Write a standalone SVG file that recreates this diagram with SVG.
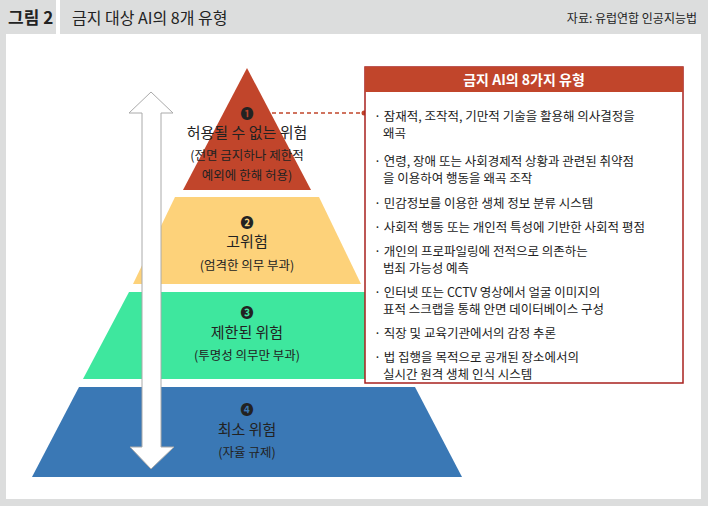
<svg xmlns="http://www.w3.org/2000/svg" width="708" height="506" viewBox="0 0 708 506">
<style>
text{font-family:"Noto Sans CJK KR","Noto Sans",sans-serif;fill:#222}
.c{text-anchor:middle}
.t1{font-size:15px}
.t2{font-size:12.5px}
.n{font-size:13px;font-weight:bold}
.li{font-size:12.5px}
</style>
<rect width="708" height="506" fill="#dcdddd"/>
<rect x="56" y="0" width="4" height="34" fill="#fff"/>
<rect x="6" y="34" width="695" height="465" fill="#fff"/>
<text x="8" y="24" style="font-size:17px;font-weight:bold">그림 2</text>
<text x="72" y="24" style="font-size:16px">금지 대상 AI의 8개 유형</text>
<text x="697" y="23" style="font-size:12px;text-anchor:end">자료: 유럽연합 인공지능법</text>
<g id="level1"><polygon points="247,68 311,190 183,190" fill="#c1452b"/>
<text class="c n" x="247" y="118">❶</text>
<text class="c t1" x="247" y="138">허용될 수 없는 위험</text>
<text class="c t2" x="247" y="160">(전면 금지하나 제한적</text>
<text class="c t2" x="247" y="180">예외에 한해 허용)</text></g>
<g id="level2"><polygon points="175,197 319,197 361,284 133,284" fill="#fdd27a"/>
<text class="c n" x="247" y="227">❷</text>
<text class="c t1" x="247" y="247">고위험</text>
<text class="c t2" x="247" y="270">(엄격한 의무 부과)</text></g>
<g id="level3"><polygon points="129,292 365,292 411,379 83,379" fill="#3ee79e"/>
<text class="c n" x="247" y="317">❸</text>
<text class="c t1" x="247" y="338">제한된 위험</text>
<text class="c t2" x="247" y="360">(투명성 의무만 부과)</text></g>
<g id="level4"><polygon points="79,387 415,387 462,477 32,477" fill="#3a78b5"/>
<text class="c n" x="247" y="414">❹</text>
<text class="c t1" x="247" y="435">최소 위험</text>
<text class="c t2" x="247" y="457">(자율 규제)</text></g>
<g id="connectors">
<polygon points="151,92 173,113 161,113 161,447 174,447 151,469 130,447 142,447 142,113 129,113" fill="#fff" stroke="#aaa" stroke-width="1"/>
<line x1="272" y1="113" x2="363" y2="113" stroke="#c1452b" stroke-width="1.5" stroke-dasharray="4,3"/>
<circle cx="364" cy="113" r="2.5" fill="#c1452b"/>
</g>
<g id="box">
<rect x="365" y="67" width="318" height="316" fill="#fff" stroke="#a8201e" stroke-width="1.5"/>
<rect x="365" y="67" width="318" height="25" fill="#c1452b"/>
<text class="c" x="524" y="85" style="font-size:14px;font-weight:bold;fill:#fff">금지 AI의 8가지 유형</text>
<text x="374" y="121" class="li">· 잠재적, 조작적, 기만적 기술을 활용해 의사결정을</text>
<text x="383" y="138" class="li">왜곡</text>
<text x="374" y="166" class="li">· 연령, 장애 또는 사회경제적 상황과 관련된 취약점</text>
<text x="383" y="183" class="li">을 이용하여 행동을 왜곡 조작</text>
<text x="374" y="208" class="li">· 민감정보를 이용한 생체 정보 분류 시스템</text>
<text x="374" y="232" class="li">· 사회적 행동 또는 개인적 특성에 기반한 사회적 평점</text>
<text x="374" y="256" class="li">· 개인의 프로파일링에 전적으로 의존하는</text>
<text x="383" y="273" class="li">범죄 가능성 예측</text>
<text x="374" y="297" class="li">· 인터넷 또는 CCTV 영상에서 얼굴 이미지의</text>
<text x="383" y="314" class="li">표적 스크랩을 통해 안면 데이터베이스 구성</text>
<text x="374" y="338" class="li">· 직장 및 교육기관에서의 감정 추론</text>
<text x="374" y="362" class="li">· 법 집행을 목적으로 공개된 장소에서의</text>
<text x="383" y="379" class="li">실시간 원격 생체 인식 시스템</text>
</g>
</svg>
